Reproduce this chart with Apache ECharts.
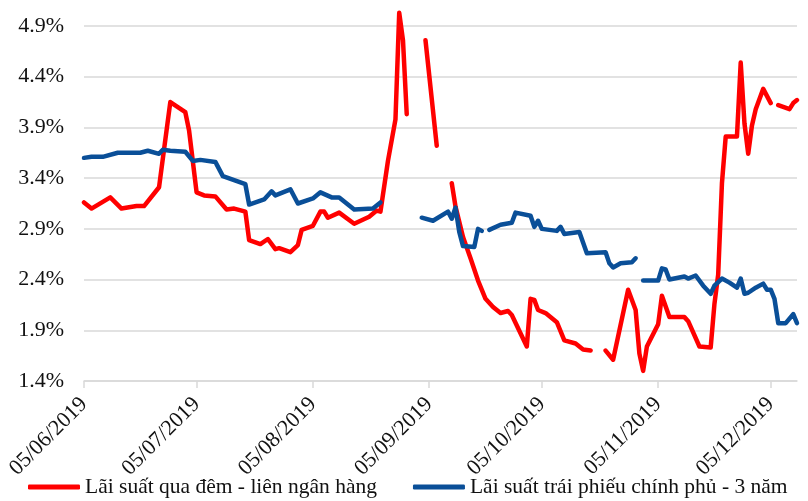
<!DOCTYPE html>
<html>
<head>
<meta charset="utf-8">
<script src="https://cdn.jsdelivr.net/npm/echarts@6/dist/echarts.min.js"></script>
<style>html,body{margin:0;padding:0;background:#fff}#c{width:808px;height:501px}</style>
</head>
<body>
<div id="c"></div>
<script>
// Axis range
const startDate = '05/06/2019';
const endDate = '12/12/2019';
const yTicks = [1.4, 1.9, 2.4, 2.9, 3.4, 3.9, 4.4, 4.9];

// Series 1: overnight interbank rate (null = gap)
const overnightDates = ['05/06/2019','07/06/2019','12/06/2019','15/06/2019','19/06/2019','21/06/2019','25/06/2019','28/06/2019','02/07/2019','03/07/2019','05/07/2019','07/07/2019','10/07/2019','13/07/2019','15/07/2019','18/07/2019','19/07/2019','22/07/2019','24/07/2019','26/07/2019','27/07/2019','30/07/2019','01/08/2019','02/08/2019','05/08/2019','07/08/2019','08/08/2019','09/08/2019','12/08/2019','16/08/2019','20/08/2019','22/08/2019','23/08/2019','25/08/2019','27/08/2019','28/08/2019','29/08/2019','30/08/2019','01/09/2019','04/09/2019','07/09/2019','09/09/2019','11/09/2019','12/09/2019','14/09/2019','16/09/2019','18/09/2019','20/09/2019','22/09/2019','24/09/2019','26/09/2019','27/09/2019','01/10/2019','02/10/2019','03/10/2019','04/10/2019','06/10/2019','09/10/2019','11/10/2019','14/10/2019','16/10/2019','18/10/2019','20/10/2019','22/10/2019','24/10/2019','28/10/2019','30/10/2019','31/10/2019','01/11/2019','02/11/2019','05/11/2019','06/11/2019','08/11/2019','12/11/2019','13/11/2019','16/11/2019','19/11/2019','20/11/2019','21/11/2019','22/11/2019','23/11/2019','26/11/2019','27/11/2019','28/11/2019','29/11/2019','30/11/2019','01/12/2019','03/12/2019','05/12/2019','06/12/2019','07/12/2019','10/12/2019','11/12/2019','12/12/2019'];
const overnightValues = [3.16,3.10,3.21,3.10,3.125,3.125,3.31,4.15,4.05,3.87,3.26,3.23,3.22,3.09,3.10,3.07,2.79,2.75,2.80,2.70,2.71,2.67,2.74,2.89,2.93,3.07,3.07,3.01,3.06,2.95,3.02,3.08,3.07,3.57,3.98,5.03,4.76,4.03,null,4.76,3.72,null,3.35,3.12,2.82,2.61,2.39,2.21,2.13,2.07,2.09,2.05,1.74,2.21,2.20,2.10,2.07,1.98,1.80,1.77,1.71,1.70,null,1.70,1.61,2.30,2.10,1.67,1.50,1.74,1.96,2.24,2.03,2.03,1.99,1.74,1.73,2.16,2.45,3.35,3.81,3.81,4.54,3.94,3.64,3.92,4.08,4.28,4.14,null,4.12,4.08,4.14,4.17];

// Series 2: 3-year government bond yield (null = gap)
const bondDates = ['05/06/2019','07/06/2019','10/06/2019','14/06/2019','20/06/2019','22/06/2019','25/06/2019','26/06/2019','28/06/2019','02/07/2019','04/07/2019','06/07/2019','10/07/2019','12/07/2019','15/07/2019','18/07/2019','19/07/2019','23/07/2019','25/07/2019','26/07/2019','30/07/2019','01/08/2019','05/08/2019','07/08/2019','10/08/2019','12/08/2019','16/08/2019','21/08/2019','23/08/2019','29/08/2019','03/09/2019','06/09/2019','10/09/2019','11/09/2019','12/09/2019','13/09/2019','14/09/2019','17/09/2019','18/09/2019','19/09/2019','20/09/2019','21/09/2019','24/09/2019','27/09/2019','28/09/2019','02/10/2019','03/10/2019','04/10/2019','05/10/2019','09/10/2019','10/10/2019','11/10/2019','15/10/2019','17/10/2019','22/10/2019','23/10/2019','24/10/2019','26/10/2019','29/10/2019','30/10/2019','31/10/2019','01/11/2019','05/11/2019','06/11/2019','07/11/2019','08/11/2019','12/11/2019','13/11/2019','15/11/2019','17/11/2019','19/11/2019','20/11/2019','22/11/2019','24/11/2019','26/11/2019','27/11/2019','28/11/2019','29/11/2019','01/12/2019','03/12/2019','04/12/2019','05/12/2019','06/12/2019','07/12/2019','09/12/2019','11/12/2019','12/12/2019'];
const bondValues = [3.60,3.61,3.61,3.65,3.65,3.67,3.64,3.68,3.67,3.66,3.57,3.58,3.56,3.42,3.38,3.34,3.14,3.19,3.27,3.23,3.29,3.15,3.20,3.26,3.21,3.21,3.09,3.10,3.16,null,3.01,2.98,3.07,3.00,3.11,2.87,2.73,2.72,2.90,2.88,null,2.89,2.94,2.96,3.06,3.03,2.92,2.98,2.90,2.88,2.92,2.85,2.87,2.66,2.67,2.56,2.52,2.56,2.57,2.61,null,2.39,2.39,2.51,2.50,2.40,2.43,2.41,2.44,2.34,2.26,2.34,2.41,2.37,2.32,2.41,2.26,2.27,2.32,2.36,2.30,2.30,2.21,1.97,1.97,2.06,1.97];

const seriesNames = ['Lãi suất qua đêm - liên ngân hàng', 'Lãi suất trái phiếu chính phủ - 3 năm'];

function parseDMY(s) { const p = s.split('/'); return Date.UTC(+p[2], +p[1] - 1, +p[0]); }
function fmt(t) { const d = new Date(t); const p = n => (n < 10 ? '0' : '') + n; return p(d.getUTCDate()) + '/' + p(d.getUTCMonth() + 1) + '/' + d.getUTCFullYear(); }
const categories = [];
for (let t = parseDMY(startDate); t <= parseDMY(endDate); t += 86400000) categories.push(fmt(t));

function pairs(dates, vals) { return dates.map((d, i) => [d, vals[i] == null ? '-' : vals[i]]); }
const showTick = (idx, val) => val.slice(0, 3) === '05/';
const FONT = 'Liberation Serif';

const chart = echarts.init(document.getElementById('c'));
chart.setOption({
  animation: false,
  backgroundColor: '#fff',
  grid: { left: 84, right: 11, top: 26, bottom: 120, containLabel: false },
  legend: {
    bottom: 3, left: 28, padding: 0,
    itemWidth: 52, itemHeight: 5, itemGap: 36,
    icon: 'roundRect',
    textStyle: { fontFamily: FONT, fontSize: 21.5, color: '#111' },
    data: seriesNames
  },
  xAxis: {
    type: 'category', data: categories, boundaryGap: false,
    axisLine: { lineStyle: { color: '#d9d9d9', width: 1.5 } },
    axisTick: { show: true, interval: showTick, length: 7, lineStyle: { color: '#d9d9d9', width: 1.5 } },
    axisLabel: { interval: showTick, rotate: 45, fontFamily: FONT, fontSize: 22, color: '#111', margin: 20 },
    splitLine: { show: false }
  },
  yAxis: {
    type: 'value', min: 1.4, max: 4.9,
    axisLine: { show: false },
    axisTick: { show: false, customValues: yTicks },
    axisLabel: { customValues: yTicks, formatter: v => v.toFixed(1) + '%', fontFamily: FONT, fontSize: 22, color: '#111', margin: 20 },
    splitLine: { show: true, lineStyle: { color: '#d9d9d9', width: 1.5 } }
  },
  series: [
    { name: seriesNames[0], type: 'line', data: pairs(overnightDates, overnightValues), showSymbol: false, symbol: 'none', clip: false, connectNulls: false,
      lineStyle: { color: '#ff0000', width: 4.5, cap: 'round', join: 'round' }, itemStyle: { color: '#ff0000' } },
    { name: seriesNames[1], type: 'line', data: pairs(bondDates, bondValues), showSymbol: false, symbol: 'none', clip: false, connectNulls: false,
      lineStyle: { color: '#0a4f98', width: 4.5, cap: 'round', join: 'round' }, itemStyle: { color: '#0a4f98' } }
  ]
});
</script>
</body>
</html>
